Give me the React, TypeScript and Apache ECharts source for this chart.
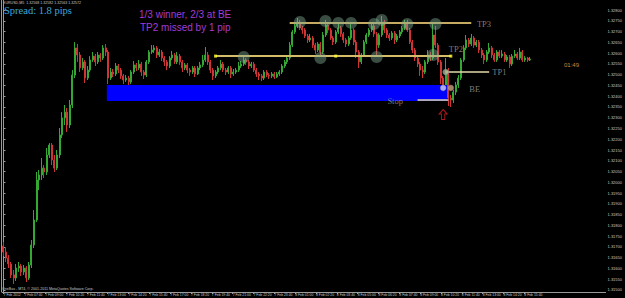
import React, { useEffect, useRef } from "react";
import * as echarts from "echarts";

// ---- data (EURUSD, 10-minute slots) ----
const firstOpen = 1.31704;
const closes = [
  1.31676, 1.31648, 1.31621, 1.3157, 1.31556, 1.31602, 1.31611, 1.31584, 1.31602, 1.31556,
  1.31616, 1.31709, 1.31825, 1.32011, 1.32034, 1.32066, 1.32048, 1.32127, 1.32173, 1.32104,
  1.32066, 1.32127, 1.3222, 1.32299, 1.32326, 1.32266, 1.32359, 1.32498, 1.32624, 1.32591,
  1.32531, 1.32559, 1.32484, 1.32521, 1.32568, 1.32586, 1.32559, 1.32591, 1.32577, 1.32624,
  1.32605, 1.32484, 1.32512, 1.32503, 1.3254, 1.32521, 1.32494, 1.32475, 1.32484, 1.32466,
  1.32512, 1.32545, 1.32531, 1.32549, 1.32512, 1.32498, 1.32559, 1.32605, 1.32614, 1.32624,
  1.32591, 1.32605, 1.32577, 1.32559, 1.3254, 1.32577, 1.32591, 1.32559, 1.32586, 1.32559,
  1.32531, 1.32545, 1.32521, 1.32512, 1.32531, 1.32503, 1.32531, 1.32545, 1.32568, 1.32591,
  1.32559, 1.32521, 1.32494, 1.32512, 1.32531, 1.32549, 1.32521, 1.32512, 1.32531, 1.32503,
  1.32512, 1.32521, 1.3254, 1.32549, 1.32568, 1.32559, 1.3254, 1.32549, 1.32521, 1.32503,
  1.32494, 1.32484, 1.32512, 1.32498, 1.32494, 1.32503, 1.32489, 1.32503, 1.32512, 1.3254,
  1.32559, 1.32577, 1.32637, 1.32698, 1.32726, 1.32744, 1.32716, 1.32707, 1.32679, 1.32661,
  1.3267, 1.32637, 1.32614, 1.32642, 1.32605, 1.32684, 1.3273, 1.32707, 1.3267, 1.32651,
  1.32698, 1.32716, 1.32689, 1.32661, 1.32642, 1.3267, 1.32707, 1.32651, 1.32605, 1.32559,
  1.32591, 1.32651, 1.32684, 1.32707, 1.32726, 1.32689, 1.32637, 1.32684, 1.32744, 1.32707,
  1.32684, 1.3267, 1.32693, 1.32661, 1.32679, 1.32698, 1.32716, 1.32735, 1.32707, 1.32651,
  1.32614, 1.32577, 1.32549, 1.32521, 1.32512, 1.32559, 1.32591, 1.32577, 1.32684, 1.32637,
  1.32559, 1.32484, 1.32447, 1.32521, 1.32391, 1.32382, 1.32419, 1.32452, 1.32484, 1.32568,
  1.32624, 1.32661, 1.32642, 1.3267, 1.32637, 1.32651, 1.32614, 1.32591, 1.32568, 1.32605,
  1.32624, 1.32591, 1.32568, 1.32605, 1.32586, 1.32596, 1.32568, 1.32582, 1.32549, 1.32586,
  1.32596, 1.32577, 1.32605, 1.32568, 1.32577, 1.32568, 1.32572,
];
const highs = [
  1.31723, 1.31695, 1.31662, 1.3163, 1.31593, 1.31621, 1.3163, 1.31621, 1.31616, 1.31611,
  1.3163, 1.31732, 1.31871, 1.32048, 1.32057, 1.32113, 1.3208, 1.32159, 1.32182, 1.32182,
  1.32127, 1.3215, 1.32252, 1.32326, 1.32359, 1.32345, 1.32382, 1.32521, 1.32651, 1.32642,
  1.32605, 1.32577, 1.32568, 1.3254, 1.32586, 1.32605, 1.32596, 1.32605, 1.326, 1.32637,
  1.32642, 1.32614, 1.32531, 1.32526, 1.32554, 1.32549, 1.32531, 1.32503, 1.32498, 1.32494,
  1.32521, 1.32563, 1.32554, 1.32568, 1.32559, 1.32521, 1.32568, 1.32614, 1.32637, 1.32637,
  1.32633, 1.32619, 1.32614, 1.32586, 1.32568, 1.32586, 1.3261, 1.326, 1.32605, 1.32596,
  1.32568, 1.32554, 1.32554, 1.32531, 1.3254, 1.3254, 1.3254, 1.32559, 1.32591, 1.32628,
  1.32605, 1.32568, 1.32531, 1.32521, 1.3254, 1.32568, 1.32559, 1.32531, 1.3254, 1.3254,
  1.32526, 1.32531, 1.32559, 1.32563, 1.32586, 1.32577, 1.32568, 1.32559, 1.32559, 1.32531,
  1.32512, 1.32503, 1.32521, 1.32521, 1.32507, 1.32512, 1.32512, 1.32512, 1.32521, 1.32549,
  1.32568, 1.32586, 1.32651, 1.32707, 1.32744, 1.32763, 1.32754, 1.32726, 1.32716, 1.32689,
  1.32689, 1.32679, 1.32647, 1.32651, 1.32651, 1.32698, 1.32754, 1.3274, 1.32716, 1.32679,
  1.32707, 1.32744, 1.32726, 1.32698, 1.3267, 1.32679, 1.32735, 1.32716, 1.32661, 1.32614,
  1.326, 1.32661, 1.32693, 1.32716, 1.32744, 1.32735, 1.32698, 1.32693, 1.32772, 1.32754,
  1.32716, 1.32693, 1.32702, 1.32702, 1.32689, 1.32707, 1.32726, 1.32754, 1.32754, 1.32716,
  1.32661, 1.32624, 1.32586, 1.32559, 1.3254, 1.32568, 1.32614, 1.32605, 1.32744, 1.32726,
  1.32647, 1.32568, 1.32494, 1.32577, 1.32531, 1.32405, 1.32429, 1.32466, 1.32498, 1.32577,
  1.32637, 1.32684, 1.3267, 1.32689, 1.32679, 1.32661, 1.32661, 1.32624, 1.326, 1.32614,
  1.32647, 1.32633, 1.326, 1.32614, 1.32614, 1.32614, 1.32605, 1.32591, 1.32591, 1.32596,
  1.32614, 1.32605, 1.32624, 1.32614, 1.32586, 1.32582, 1.32582,
];
const lows = [
  1.31658, 1.3163, 1.31602, 1.31556, 1.31528, 1.31542, 1.31584, 1.31565, 1.3157, 1.31537,
  1.31546, 1.31602, 1.31695, 1.31816, 1.31964, 1.32011, 1.3202, 1.32034, 1.32113, 1.3208,
  1.32048, 1.32057, 1.32113, 1.32206, 1.32266, 1.32234, 1.32252, 1.32345, 1.32484, 1.32559,
  1.32512, 1.32521, 1.32461, 1.32475, 1.32512, 1.32559, 1.3254, 1.32549, 1.32559, 1.32568,
  1.32586, 1.32456, 1.32475, 1.32489, 1.32494, 1.32507, 1.3248, 1.32456, 1.32466, 1.32452,
  1.32456, 1.32503, 1.32517, 1.32521, 1.32494, 1.3248, 1.32489, 1.32549, 1.32596, 1.326,
  1.32577, 1.32582, 1.32563, 1.3254, 1.32521, 1.32531, 1.32568, 1.32549, 1.32549, 1.32545,
  1.32512, 1.32521, 1.32507, 1.32494, 1.32503, 1.32489, 1.32498, 1.32521, 1.32535, 1.32559,
  1.32545, 1.32507, 1.32475, 1.32484, 1.32503, 1.32521, 1.32512, 1.32498, 1.32503, 1.32484,
  1.32494, 1.32503, 1.32512, 1.32531, 1.3254, 1.32545, 1.32526, 1.32531, 1.32512, 1.32489,
  1.32475, 1.3247, 1.32475, 1.32489, 1.3248, 1.32484, 1.3248, 1.32484, 1.32494, 1.32503,
  1.32531, 1.32549, 1.32568, 1.32628, 1.32689, 1.32716, 1.32707, 1.32689, 1.3267, 1.32647,
  1.32651, 1.32624, 1.32596, 1.32605, 1.32582, 1.32596, 1.32675, 1.32693, 1.32661, 1.32637,
  1.32642, 1.32689, 1.32675, 1.32647, 1.32628, 1.32633, 1.32661, 1.32637, 1.32577, 1.32531,
  1.32549, 1.32582, 1.32642, 1.32675, 1.32698, 1.32675, 1.32591, 1.32624, 1.32675, 1.32693,
  1.3267, 1.32656, 1.32661, 1.32642, 1.32651, 1.3267, 1.32689, 1.32707, 1.32698, 1.32642,
  1.326, 1.32563, 1.32535, 1.32494, 1.32484, 1.32503, 1.32549, 1.32563, 1.32568, 1.32624,
  1.32545, 1.32456, 1.32419, 1.32438, 1.32354, 1.3235, 1.32368, 1.32405, 1.32438, 1.32475,
  1.32559, 1.32614, 1.32628, 1.32633, 1.32624, 1.32628, 1.326, 1.32577, 1.32549, 1.32559,
  1.32596, 1.32577, 1.32559, 1.32559, 1.32577, 1.32577, 1.32559, 1.32559, 1.32531, 1.3254,
  1.32577, 1.32568, 1.32568, 1.32559, 1.32559, 1.32559, 1.32563,
];
const SLOT_COUNT = 236;

const priceTicks = [
  1.315, 1.3155, 1.316, 1.3165, 1.317, 1.3175, 1.318, 1.3185, 1.319, 1.3195,
  1.32, 1.3205, 1.321, 1.3215, 1.322, 1.3225, 1.323, 1.3235, 1.324, 1.3245,
  1.325, 1.3255, 1.326, 1.3265, 1.327, 1.3275, 1.328,
];
const timeLabels = [
  "7 Feb 2012", "7 Feb 07:40", "7 Feb 09:00", "7 Feb 10:20", "7 Feb 11:40", "7 Feb 13:00",
  "7 Feb 14:20", "7 Feb 15:40", "7 Feb 17:00", "7 Feb 18:20", "7 Feb 19:40", "7 Feb 21:00",
  "7 Feb 22:20", "7 Feb 23:40", "8 Feb 01:00", "8 Feb 02:20", "8 Feb 03:40", "8 Feb 05:00",
  "8 Feb 06:20", "8 Feb 07:40", "8 Feb 09:00", "8 Feb 10:20", "8 Feb 11:40", "8 Feb 13:00",
  "8 Feb 14:20", "8 Feb 15:40",
];
const LABEL_STEP_MIN = 80;

// trade levels
const levelNames = ["TP3", "TP2", "TP1", "Stop"];
const levelPrices = [1.3274, 1.32586, 1.32512, 1.32382];
const levelFrom = [112, 83, 173, 162];
const levelTo = [183, 175, 190, 174];
const tp2Dots = [83, 130, 175];

// level tags
const tagTexts = ["TP3", "TP2", "TP1", "BE", "Stop"];
const tagSlots = [185, 174, 191, 182, 150];
const tagPrices = [1.32737, 1.32619, 1.32512, 1.32433, 1.32377];

// touches of the target levels
const hitSlots = [116, 126, 131, 136, 145, 148, 158, 169, 94, 124, 146, 168];
const hitPrices = [1.32744, 1.32749, 1.3274, 1.3274, 1.32735, 1.32754, 1.32735, 1.32735, 1.32582, 1.32577, 1.32582, 1.32591];

// entry / BE markers
const markSlots = [172, 175, 173];
const markPrices = [1.32438, 1.32438, 1.32512];
const arrowSlot = 172;
const arrowPrice = 1.32315;

// entry zone
const zoneFrom = 41;
const zoneTo = 174;
const zoneTop = 1.32452;
const zoneBottom = 1.32377;

export default function App() {
  const ref = useRef<HTMLDivElement>(null);
  useEffect(() => {
    if (!ref.current) return;
    const chart = echarts.init(ref.current, undefined, { renderer: "svg" });

    const slots = Array.from({ length: SLOT_COUNT }, (_, i) => String(i));
    const candles = closes.map((c, i) => [i === 0 ? firstOpen : closes[i - 1], c, lows[i], highs[i]]);
    const bid = closes[closes.length - 1];
    const n = closes.length;
    const header = `EURUSD,M5  ${closes[n - 2].toFixed(5)} ${highs[n - 1].toFixed(5)} ${lows[n - 1].toFixed(5)} ${bid.toFixed(5)}`;
    const timeTicks = timeLabels.map((_, i) => i * LABEL_STEP_MIN);

    const levelColors = ["#c6aa62", "#d4bc68", "#e4d8ae", "#e4d8ae"];
    const levelWidths = [2, 2, 1.5, 1.5];
    const markColors = ["#d8d0ee", "#caa27e", "#a6b494"];

    const yMin = 1.31490714;
    const yMax = 1.32846429;

    const levelSeries = levelNames.map((nm, i) => ({
      type: "line",
      name: nm,
      data: [
        [levelFrom[i], levelPrices[i]],
        [levelTo[i], levelPrices[i]],
      ],
      symbol: "none",
      lineStyle: { color: levelColors[i], width: levelWidths[i] },
      z: 4,
      silent: true,
    }));

    chart.setOption({
      animation: false,
      backgroundColor: "#000000",
      grid: { left: 2, right: 13, top: 0, bottom: 6 },
      xAxis: [
        {
          type: "category",
          data: slots,
          boundaryGap: true,
          axisLine: { show: true, lineStyle: { color: "#9a9a9a" } },
          axisTick: { show: false },
          axisLabel: { show: false },
          splitLine: { show: false },
        },
        {
          type: "value",
          position: "bottom",
          min: -6,
          max: 2312,
          axisLine: { show: false },
          splitLine: { show: false },
          axisTick: { show: true, length: 2, customValues: timeTicks, lineStyle: { color: "#9a9a9a" } },
          axisLabel: {
            customValues: timeTicks,
            showMinLabel: true,
            formatter: (v: number) => timeLabels[Math.round(v / LABEL_STEP_MIN)] ?? "",
            fontSize: 3.4,
            color: "#c8c8c8",
            align: "left",
            margin: 1.5,
            fontFamily: "Liberation Sans",
          },
        },
      ],
      yAxis: {
        type: "value",
        position: "right",
        min: yMin,
        max: yMax,
        splitLine: { show: false },
        axisLine: { show: true, lineStyle: { color: "#9a9a9a" } },
        axisTick: { show: true, length: 2, customValues: priceTicks, lineStyle: { color: "#9a9a9a" } },
        axisLabel: {
          customValues: priceTicks,
          formatter: (v: number) => v.toFixed(5),
          fontSize: 4,
          color: "#c8c8c8",
          margin: 2,
          fontFamily: "Liberation Sans",
        },
      },
      series: [
        {
          type: "candlestick",
          data: candles,
          barWidth: 1.5,
          z: 2,
          itemStyle: {
            color: "#33a833",
            color0: "#d03434",
            borderColor: "#33a833",
            borderColor0: "#d03434",
            borderWidth: 1,
          },
          markLine: {
            silent: true,
            symbol: ["none", "none"],
            animation: false,
            data: [{ yAxis: bid }],
            lineStyle: { color: "#7a7a7a", width: 1, type: "solid" },
            label: {
              show: true,
              position: "end",
              formatter: bid.toFixed(5),
              color: "#000",
              backgroundColor: "#e0e0e0",
              fontSize: 4,
              padding: [1, 2],
              distance: 1,
            },
          },
        },
        {
          type: "custom",
          data: [[zoneFrom, zoneTo, zoneTop, zoneBottom]],
          encode: { x: [0, 1], y: [2, 3] },
          z: 3,
          silent: true,
          renderItem: (_p: any, api: any) => {
            const a = api.coord([api.value(0), api.value(2)]);
            const b = api.coord([api.value(1), api.value(3)]);
            return {
              type: "rect",
              shape: { x: a[0] - 1.3, y: a[1], width: b[0] - a[0], height: b[1] - a[1] },
              style: { fill: "#0000ff" },
            };
          },
        },
        ...levelSeries,
        {
          type: "scatter",
          data: tp2Dots.map((s) => [s, levelPrices[1]]),
          symbol: "rect",
          symbolSize: 3,
          itemStyle: { color: "#ffff30" },
          z: 5,
          silent: true,
        },
        {
          type: "scatter",
          data: hitSlots.map((s, i) => [s, hitPrices[i]]),
          symbolSize: 12,
          itemStyle: { color: "rgba(130,175,150,0.55)" },
          z: 5,
          silent: true,
        },
        {
          type: "scatter",
          data: markSlots.map((s, i) => ({ value: [s, markPrices[i]], itemStyle: { color: markColors[i] } })),
          symbolSize: 6,
          itemStyle: { borderColor: "#6a6a6a", borderWidth: 0.5 },
          z: 6,
          silent: true,
        },
        {
          type: "scatter",
          data: [[arrowSlot, arrowPrice]],
          symbol: "path://M5 0 L10 5 L7 5 L7 11 L3 11 L3 5 L0 5 Z",
          symbolSize: [8, 10],
          itemStyle: { color: "rgba(0,0,0,0)", borderColor: "#d42020", borderWidth: 1 },
          z: 6,
          silent: true,
        },
        {
          type: "scatter",
          data: tagSlots.map((s, i) => [s, tagPrices[i]]),
          symbolSize: 1,
          itemStyle: { color: "rgba(0,0,0,0)" },
          z: 7,
          silent: true,
          label: {
            show: true,
            position: "right",
            distance: 0,
            formatter: (p: any) => tagTexts[p.dataIndex],
            color: "#9c9c9c",
            fontSize: 8.5,
            fontFamily: "Liberation Serif",
          },
        },
      ],
      graphic: [
        {
          type: "line",
          shape: { x1: 1.5, y1: 0, x2: 1.5, y2: 292 },
          style: { stroke: "#9a9a9a", lineWidth: 1 },
          silent: true,
        },
        {
          type: "text",
          x: 3,
          y: 1,
          style: { text: header, fill: "#c8c8c8", font: '3.6px "Liberation Sans"' },
          silent: true,
        },
        {
          type: "text",
          x: 4,
          y: 4.5,
          style: { text: "Spread: 1.8 pips", fill: "#3ba8de", font: '10.5px "Liberation Serif"' },
          silent: true,
        },
        {
          type: "text",
          x: 139,
          y: 9.5,
          style: { text: "1/3 winner, 2/3 at BE", fill: "#a03cd8", font: '10px "Liberation Sans"' },
          silent: true,
        },
        {
          type: "text",
          x: 140,
          y: 22.5,
          style: { text: "TP2 missed by 1 pip", fill: "#a03cd8", font: '10px "Liberation Sans"' },
          silent: true,
        },
        {
          type: "text",
          x: 564,
          y: 61.5,
          style: { text: "01:49", fill: "#d4843c", font: '6px "Liberation Sans"' },
          silent: true,
        },
        {
          type: "text",
          x: 2,
          y: 287,
          style: {
            text: "OneBas - MT4, © 2001-2011 MetaQuotes Software Corp.",
            fill: "#c8c8c8",
            font: '3.6px "Liberation Sans"',
          },
          silent: true,
        },
      ],
    });
    return () => chart.dispose();
  }, []);
  return (
    <div
      ref={ref}
      style={{ position: "absolute", left: 0, top: 0, width: 625, height: 298, background: "#000" }}
    />
  );
}
